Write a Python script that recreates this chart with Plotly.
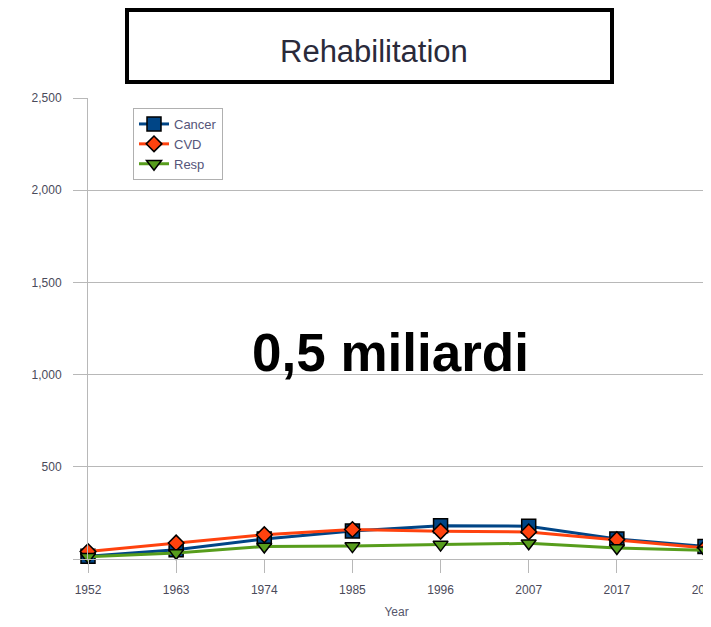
import plotly.graph_objects as go

years = ["1952", "1963", "1974", "1985", "1996", "2007", "2017", "2028"]
cancer = [15, 50, 108, 152, 180, 178, 108, 68]
cvd = [40, 87, 132, 160, 150, 147, 105, 60]
resp = [12, 33, 68, 70, 78, 85, 60, 47]

series_names = ["Cancer", "CVD", "Resp"]
y_ticks = [0, 500, 1000, 1500, 2000, 2500]
y_tick_text = ["", "500", "1,000", "1,500", "2,000", "2,500"]

OFF = 8  # page body margin
W, H = 711 - OFF, 627 - 2 * OFF
L, R, T = 88 - OFF, 6, 98 - OFF
B = H - (559 - OFF)
pw, ph = W - L - R, H - T - B

def px(x):
    return (x - OFF - L) / pw

def py(y):
    return (H - B - (y - OFF)) / ph

fig = go.Figure()
styles = [
    dict(color="#004586", symbol="square", size=14),
    dict(color="#ff420e", symbol="diamond", size=12),
    dict(color="#579d1c", symbol="triangle-down", size=13),
]
for name, vals, st in zip(series_names, [cancer, cvd, resp], styles):
    fig.add_trace(go.Scatter(
        x=years, y=vals, name=name, mode="lines+markers",
        line=dict(color=st["color"], width=3),
        marker=dict(symbol=st["symbol"], size=st["size"], color=st["color"],
                    line=dict(color="black", width=1.5)),
        cliponaxis=False,
    ))

grid = "#b8b8b8"
fig.update_layout(
    width=W, height=H,
    margin=dict(l=L, r=R, t=T, b=B, autoexpand=False),
    paper_bgcolor="white", plot_bgcolor="white",
    font=dict(family="Liberation Sans, Arial, sans-serif", color="#4a4a5a"),
    showlegend=True,
    legend=dict(
        x=px(133), y=py(108), xanchor="left", yanchor="top",
        bordercolor="#b0b0b0", borderwidth=1, bgcolor="white",
        font=dict(size=13, color="#55557a"), itemwidth=30,
        tracegroupgap=0,
    ),
    xaxis=dict(
        type="category", categoryorder="array", categoryarray=years,
        range=[0, len(years) - 1],
        showgrid=False, showline=True, linecolor=grid, linewidth=1,
        ticks="outside", ticklen=13, tickcolor=grid,
        tickfont=dict(size=12, color="#4a4a5a"),
        ticklabelstandoff=7,
        title=dict(text="Year", font=dict(size=12, color="#55556a"), standoff=18),
        zeroline=False,
    ),
    yaxis=dict(
        range=[0, 2500], tickvals=y_ticks, ticktext=y_tick_text,
        showgrid=True, gridcolor=grid, gridwidth=1,
        showline=True, linecolor=grid, linewidth=1, mirror=True,
        ticks="outside", ticklen=14, tickcolor=grid,
        tickfont=dict(size=12, color="#4a4a5a"),
        ticklabelstandoff=9,
        zeroline=False,
    ),
    shapes=[
        dict(type="rect", xref="paper", yref="paper",
             x0=px(127), x1=px(612), y0=py(82), y1=py(10),
             line=dict(color="black", width=4), fillcolor="rgba(0,0,0,0)"),
    ],
    annotations=[
        dict(text="Rehabilitation", xref="paper", yref="paper",
             x=px(374), y=py(51), xanchor="center", yanchor="middle",
             showarrow=False, font=dict(size=31, color="#2a2a3a")),
        dict(text="<b>0,5 miliardi</b>", xref="paper", yref="paper",
             x=px(390), y=py(352), xanchor="center", yanchor="middle",
             showarrow=False, font=dict(size=53, color="black",
                                        family="Liberation Sans, Arial, sans-serif")),
    ],
)

fig.write_html("out.html")
